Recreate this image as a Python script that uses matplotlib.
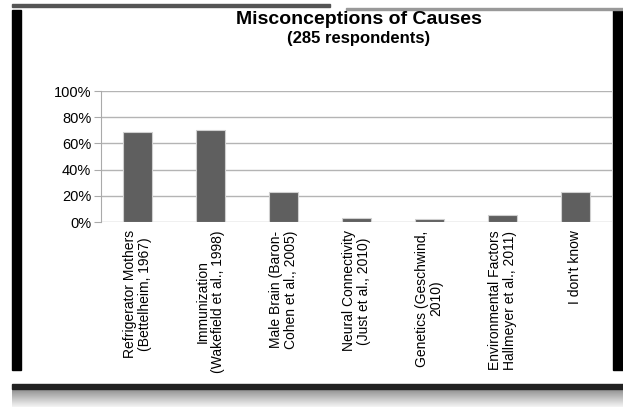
import matplotlib
matplotlib.use("Agg")
import numpy as np
import matplotlib.pyplot as plt
from matplotlib.patches import Rectangle
from matplotlib.ticker import PercentFormatter

# data
causes = [
    "Refrigerator Mothers\n(Bettelheim, 1967)",
    "Immunization\n(Wakefield et al., 1998)",
    "Male Brain (Baron-\nCohen et al., 2005)",
    "Neural Connectivity\n(Just et al., 2010)",
    "Genetics (Geschwind,\n2010)",
    "Environmental Factors\nHallmeyer et al., 2011)",
    "I don't know",
]
share = [69, 70, 23, 3, 2.5, 5.5, 23]
yticks = [0, 20, 40, 60, 80, 100]


def main():
    plt.rcParams["font.family"] = ["Liberation Sans", "DejaVu Sans"]
    fig = plt.figure(figsize=(6.23, 4.07), dpi=100)
    ax = fig.add_axes([0.1621, 0.4545, 0.8199, 0.3219])

    x = list(range(len(causes)))
    ax.bar(x, share, width=0.4, color="#5f5f5f", edgecolor="#d0d0d0",
           linewidth=0.8, zorder=3)

    ax.set_xlim(-0.5, len(causes) - 0.5)
    ax.set_ylim(0, 100)
    ax.set_yticks(yticks)
    ax.yaxis.set_major_formatter(PercentFormatter(decimals=0))
    ax.grid(axis="y", color="#b4b4b4", linewidth=1.0, zorder=0)

    ax.set_xticks(x)
    ax.set_xticklabels(causes, rotation=90, fontsize=10, va="top",
                       ha="center", multialignment="center", linespacing=1.05)
    ax.tick_params(axis="x", length=0, pad=6)
    ax.tick_params(axis="y", labelsize=10.5, length=5, color="#aaaaaa",
                   direction="out", pad=2)

    for side in ["top", "right", "bottom"]:
        ax.spines[side].set_visible(False)
    ax.spines["left"].set_color("#aaaaaa")

    fig.text(0.5755, 0.951, "Misconceptions of Causes", ha="center",
             va="center", fontsize=14, fontweight="bold")
    fig.text(0.575, 0.905, "(285 respondents)", ha="center",
             va="center", fontsize=12, fontweight="bold")

    # screenshot frame around the chart
    fig.patches.append(Rectangle((0.019, 0.091), 0.014, 0.884,
                                 transform=fig.transFigure, color="black"))
    fig.patches.append(Rectangle((0.984, 0.091), 0.016, 0.884,
                                 transform=fig.transFigure, color="black"))
    fig.patches.append(Rectangle((0.019, 0.983), 0.51, 0.006,
                                 transform=fig.transFigure, color="#555555"))
    fig.patches.append(Rectangle((0.555, 0.976), 0.445, 0.004,
                                 transform=fig.transFigure, color="#999999"))
    fig.patches.append(Rectangle((0.019, 0.045), 0.981, 0.012,
                                 transform=fig.transFigure, color="#222222"))

    # gray shadow under the frame
    shadow = fig.add_axes([0.019, 0.0, 0.981, 0.045])
    grad = np.linspace(0.55, 0.95, 20).reshape(-1, 1)
    shadow.imshow(grad, aspect="auto", cmap="gray", vmin=0, vmax=1)
    shadow.axis("off")

    fig.savefig("out.png", dpi=100)


if __name__ == "__main__":
    main()
